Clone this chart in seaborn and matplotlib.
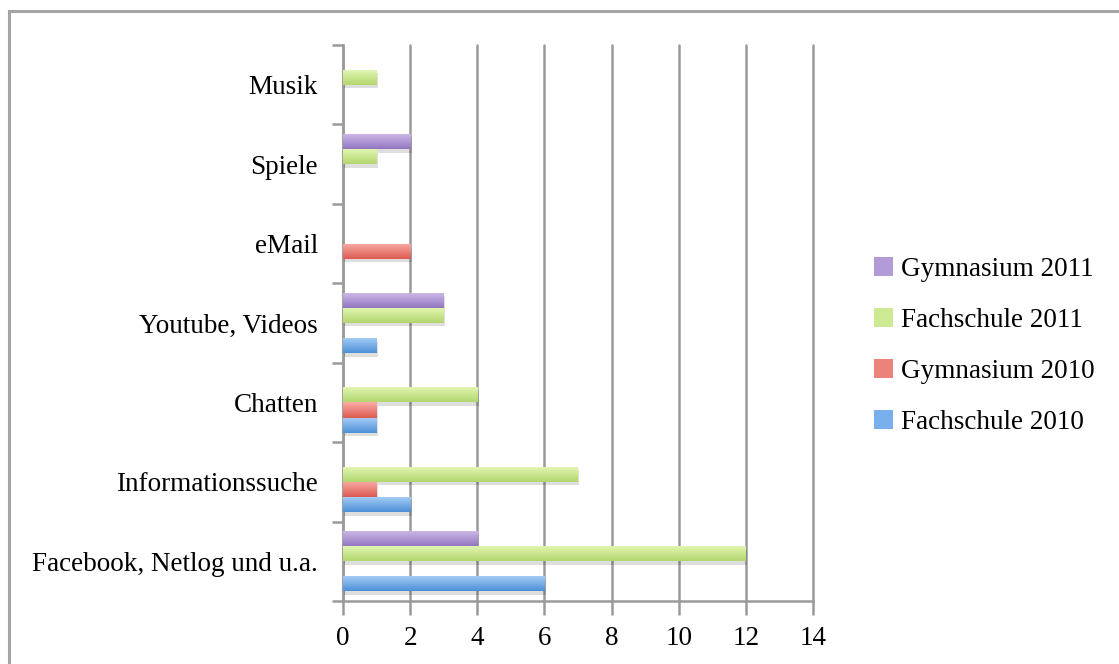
import matplotlib
matplotlib.use("Agg")
import matplotlib.pyplot as plt
import seaborn as sns
import numpy as np
import pandas as pd
from matplotlib.colors import LinearSegmentedColormap
from matplotlib.patches import Rectangle, Patch
from matplotlib import patheffects

kategorien = ["Facebook, Netlog und u.a.", "Informationssuche", "Chatten",
              "Youtube, Videos", "eMail", "Spiele", "Musik"]
serien = ["Fachschule 2010", "Gymnasium 2010", "Fachschule 2011", "Gymnasium 2011"]
fachschule_2010 = [6, 2, 1, 1, 0, 0, 0]
gymnasium_2010 = [0, 1, 1, 0, 2, 0, 0]
fachschule_2011 = [12, 7, 4, 3, 0, 1, 1]
gymnasium_2011 = [4, 0, 0, 3, 0, 2, 0]

# Verlauf oben hell -> unten dunkel
farben = {
    "Fachschule 2010": ("#a9cff7", "#4e8fd8"),
    "Gymnasium 2010": ("#f9aca6", "#dc5b52"),
    "Fachschule 2011": ("#e4f8b4", "#b3d66f"),
    "Gymnasium 2011": ("#d0bbea", "#9277c0"),
}
legende_farben = {
    "Fachschule 2010": "#79afec",
    "Gymnasium 2010": "#ec837b",
    "Fachschule 2011": "#cde994",
    "Gymnasium 2011": "#b29bd6",
}

df = pd.DataFrame({
    "Kategorie": kategorien * 4,
    "Serie": np.repeat(serien, len(kategorien)),
    "Wert": fachschule_2010 + gymnasium_2010 + fachschule_2011 + gymnasium_2011,
})

sns.set_theme(style="white")
plt.rcParams["font.family"] = ["Liberation Serif", "DejaVu Serif"]
fs = 19.5

fig = plt.figure(figsize=(11.19, 6.64), dpi=100)
ax = fig.add_axes([343 / 1119, 1 - 601 / 664, 470 / 1119, 556 / 664])

mittel = {s: c[1] for s, c in farben.items()}
sns.barplot(data=df, y="Kategorie", x="Wert", hue="Serie", order=kategorien,
            hue_order=serien, palette=mittel, orient="h", width=0.76,
            dodge=True, legend=False, ax=ax, zorder=3, linewidth=0)
ax.invert_yaxis()

# Verlauf + Schatten auf die Balken
for container, serie in zip(ax.containers, serien):
    cmap = LinearSegmentedColormap.from_list(serie, [farben[serie][1], farben[serie][0]])
    for bar in container:
        w = bar.get_width()
        if w <= 0:
            bar.set_visible(False)
            continue
        bar.set_path_effects([patheffects.SimplePatchShadow(offset=(1, -2.5), shadow_rgbFace="#000000", alpha=0.13),
                              patheffects.Normal()])
        x0, y0, h = bar.get_x(), bar.get_y(), bar.get_height()
        grad = np.linspace(0, 1, 64).reshape(-1, 1)
        im = ax.imshow(grad, extent=[x0, x0 + w, y0, y0 + h], origin="lower",
                       cmap=cmap, aspect="auto", zorder=4, interpolation="bilinear")
        im.set_clip_path(bar)

ax.set_xlim(0, 14)
ax.set_ylim(-0.5, len(kategorien) - 0.5)
ax.set_xticks(range(0, 15, 2))
ax.set_yticks(range(len(kategorien)))
ax.set_yticklabels(kategorien)
ax.set_yticks(np.arange(-0.5, len(kategorien), 1), minor=True)
ax.set_xlabel("")
ax.set_ylabel("")

grau = "#9a9a9a"
ax.grid(axis="x", color=grau, linewidth=1.8, zorder=1)
ax.set_axisbelow(True)
for line in ax.get_xgridlines():
    line.set_clip_on(False)
for s in ["top", "right"]:
    ax.spines[s].set_visible(False)
ax.spines["left"].set_color(grau)
ax.spines["left"].set_linewidth(1.8)
ax.spines["bottom"].set_color(grau)
ax.spines["bottom"].set_linewidth(1.8)
ax.spines["bottom"].set_bounds(0, 14)

ax.tick_params(axis="y", which="major", length=0, pad=18, labelsize=fs, labelcolor="black")
ax.tick_params(axis="y", which="minor", left=True, length=8, width=1.8, color=grau)
ax.tick_params(axis="x", which="major", bottom=True, length=10, width=1.8, color=grau,
               pad=8, labelsize=fs, labelcolor="black")

# Legende (umgekehrte Reihenfolge)
handles = [Patch(facecolor=legende_farben[s], edgecolor="none") for s in serien][::-1]
fig.legend(handles, serien[::-1], loc="center left", bbox_to_anchor=(850 / 1119, 1 - 346 / 664),
           frameon=False, fontsize=fs, handlelength=0.7, handleheight=0.7,
           handletextpad=0.3, labelspacing=0.97, labelcolor="black")

# Rahmen um das Diagramm
fig.patches.append(Rectangle((8.5 / 1119, -0.1), 1.2, 1.1 - 10.5 / 664, transform=fig.transFigure,
                             fill=False, edgecolor="#a5a5a5", linewidth=2.2, zorder=0))

fig.savefig("out.png", dpi=100)
